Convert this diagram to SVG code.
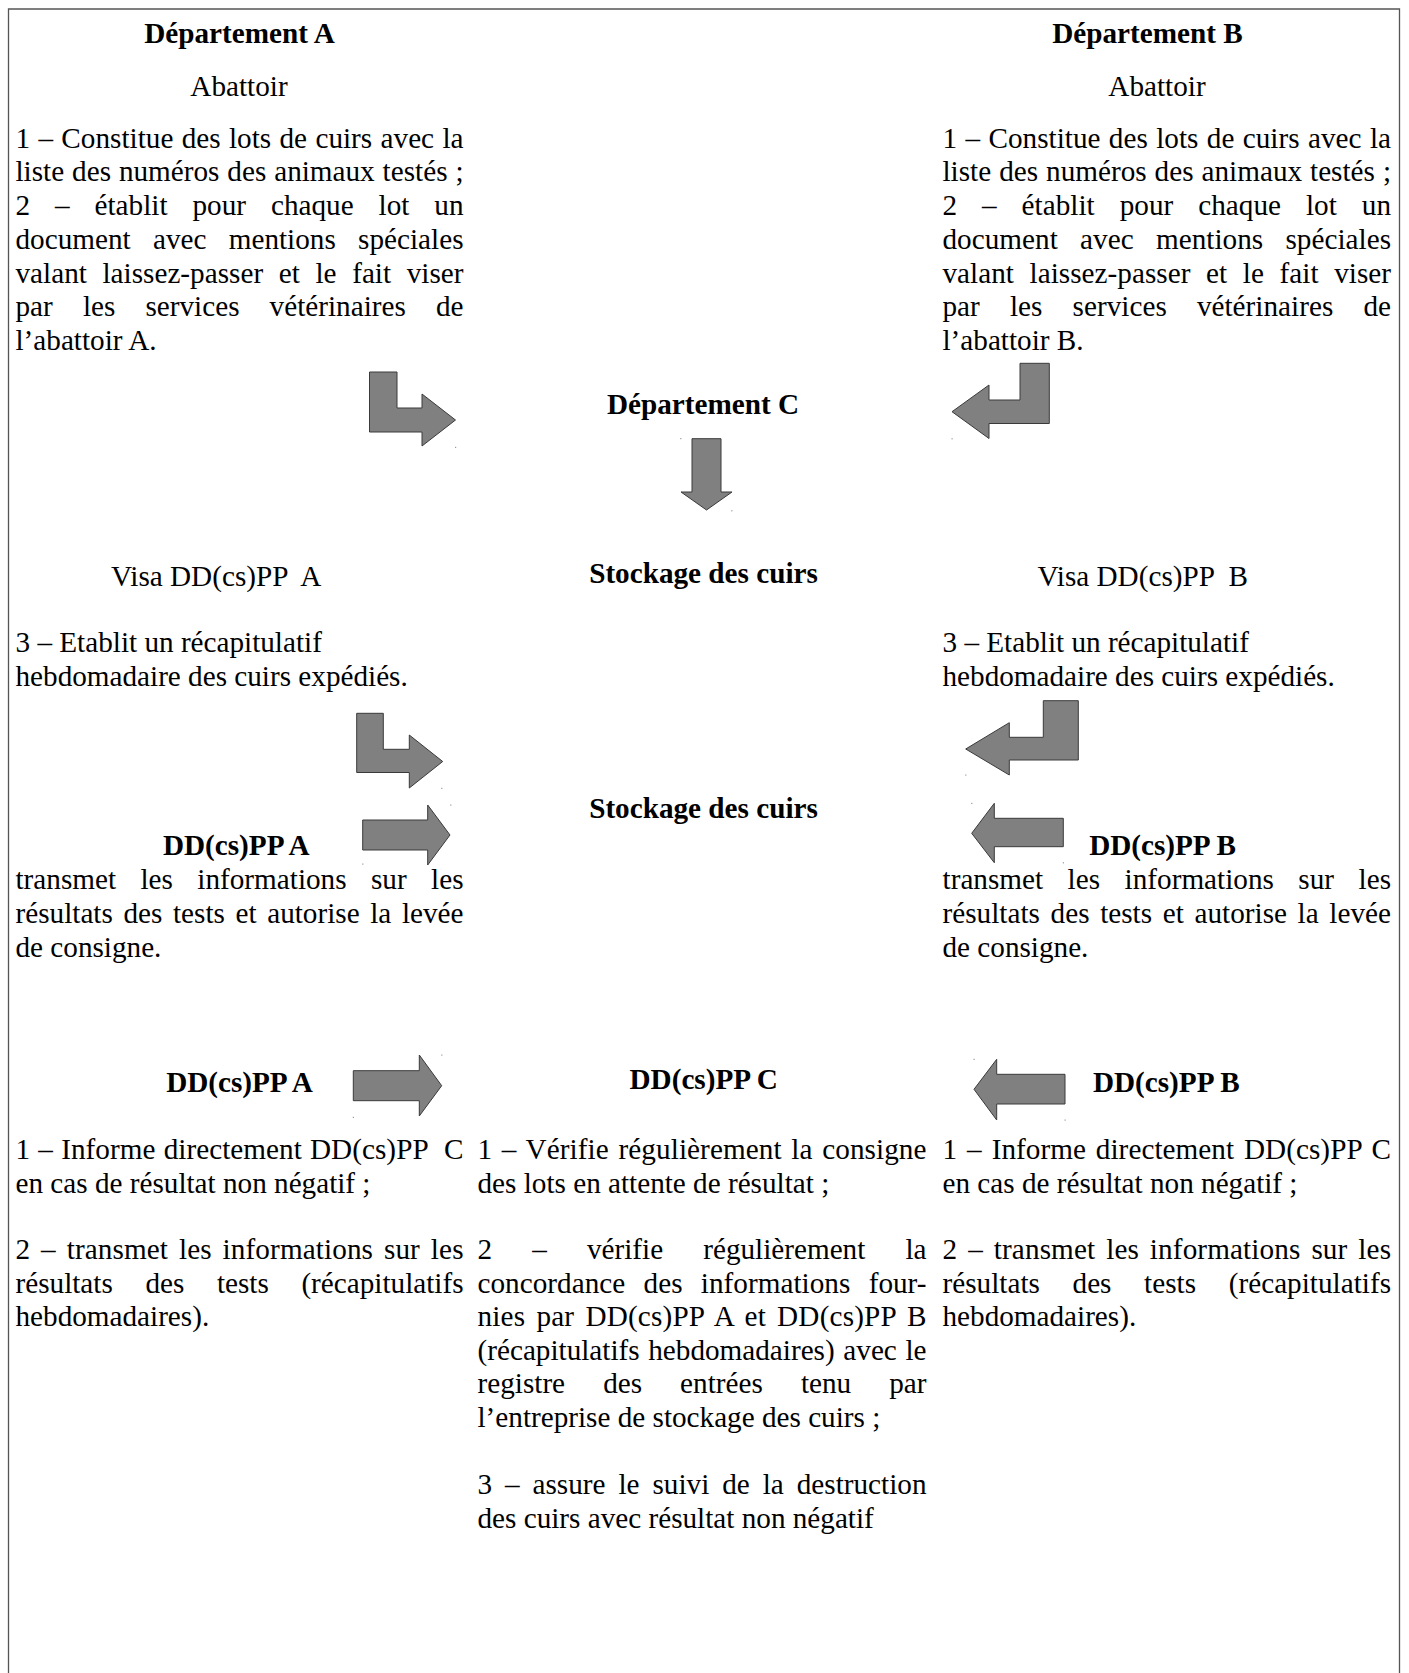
<svg xmlns="http://www.w3.org/2000/svg" width="1409" height="1673" viewBox="0 0 1409 1673">
<style>
.t{font-family:"Liberation Serif","Times New Roman",serif;font-size:29.2px;fill:#000}
.b{font-weight:bold}
.c{text-anchor:middle}
.arrow{fill:#808080;stroke:#3a3a3a;stroke-width:1}
.dot{fill:#9a9a9a}
.frame{fill:none;stroke:#555;stroke-width:1.3}
</style>
<rect width="1409" height="1673" fill="#fff"/>
<path class="frame" d="M8.5,1673 V9 H1399.5 V1673"/>

<g id="deptA">
<text class="t b c" x="239.5" y="43.3">Département A</text>
<text class="t c" x="239" y="95.7">Abattoir</text>
<text class="t" x="15.5" y="147.5" textLength="448" lengthAdjust="spacing" style="word-spacing:1px">1 – Constitue des lots de cuirs avec la</text>
<text class="t" x="15.5" y="181.25" textLength="448" lengthAdjust="spacing" style="word-spacing:0.6px">liste des numéros des animaux testés ;</text>
<text class="t" x="15.5" y="215" textLength="448" lengthAdjust="spacing" style="word-spacing:17.6px">2 – établit pour chaque lot un</text>
<text class="t" x="15.5" y="248.75" textLength="448" lengthAdjust="spacing" style="word-spacing:15px">document avec mentions spéciales</text>
<text class="t" x="15.5" y="282.5" textLength="448" lengthAdjust="spacing" style="word-spacing:8.3px">valant laissez-passer et le fait viser</text>
<text class="t" x="15.5" y="316.25" textLength="448" lengthAdjust="spacing" style="word-spacing:22.8px">par les services vétérinaires de</text>
<text class="t" x="15.5" y="350">l’abattoir A.</text>
</g>

<g id="deptB">
<text class="t b c" x="1147.5" y="43.3">Département B</text>
<text class="t c" x="1157" y="95.7">Abattoir</text>
<text class="t" x="942.5" y="147.5" textLength="448.5" lengthAdjust="spacing" style="word-spacing:1px">1 – Constitue des lots de cuirs avec la</text>
<text class="t" x="942.5" y="181.25" textLength="448.5" lengthAdjust="spacing" style="word-spacing:0.6px">liste des numéros des animaux testés ;</text>
<text class="t" x="942.5" y="215" textLength="448.5" lengthAdjust="spacing" style="word-spacing:17.6px">2 – établit pour chaque lot un</text>
<text class="t" x="942.5" y="248.75" textLength="448.5" lengthAdjust="spacing" style="word-spacing:15px">document avec mentions spéciales</text>
<text class="t" x="942.5" y="282.5" textLength="448.5" lengthAdjust="spacing" style="word-spacing:8.3px">valant laissez-passer et le fait viser</text>
<text class="t" x="942.5" y="316.25" textLength="448.5" lengthAdjust="spacing" style="word-spacing:22.8px">par les services vétérinaires de</text>
<text class="t" x="942.5" y="350">l’abattoir B.</text>
</g>

<g id="deptC">
<text class="t b c" x="703" y="414">Département C</text>
</g>

<g id="stockage1">
<text class="t b c" x="703.5" y="582.7">Stockage des cuirs</text>
</g>

<g id="visaA">
<text class="t" x="111" y="585.7" xml:space="preserve">Visa DD(cs)PP  A</text>
<text class="t" x="15.5" y="652.2">3 – Etablit un récapitulatif</text>
<text class="t" x="15.5" y="686">hebdomadaire des cuirs expédiés.</text>
</g>

<g id="visaB">
<text class="t" x="1037.5" y="585.7" xml:space="preserve">Visa DD(cs)PP  B</text>
<text class="t" x="942.5" y="652.2">3 – Etablit un récapitulatif</text>
<text class="t" x="942.5" y="686">hebdomadaire des cuirs expédiés.</text>
</g>

<g id="stockage2">
<text class="t b c" x="703.5" y="818.3">Stockage des cuirs</text>
</g>

<g id="ddppA-transmet">
<text class="t b c" x="236.3" y="855">DD(cs)PP A</text>
<text class="t" x="15.5" y="889.3" textLength="448" lengthAdjust="spacing" style="word-spacing:17.1px">transmet les informations sur les</text>
<text class="t" x="15.5" y="923" textLength="448" lengthAdjust="spacing" style="word-spacing:3.3px">résultats des tests et autorise la levée</text>
<text class="t" x="15.5" y="956.8">de consigne.</text>
</g>

<g id="ddppB-transmet">
<text class="t b c" x="1162.5" y="855">DD(cs)PP B</text>
<text class="t" x="942.5" y="889.3" textLength="448.5" lengthAdjust="spacing" style="word-spacing:17.1px">transmet les informations sur les</text>
<text class="t" x="942.5" y="923" textLength="448.5" lengthAdjust="spacing" style="word-spacing:3.3px">résultats des tests et autorise la levée</text>
<text class="t" x="942.5" y="956.8">de consigne.</text>
</g>

<g id="ddppA">
<text class="t b c" x="239.5" y="1092.3">DD(cs)PP A</text>
<text class="t" x="15.5" y="1159" textLength="448" lengthAdjust="spacing" xml:space="preserve" style="word-spacing:0.9px">1 – Informe directement DD(cs)PP  C</text>
<text class="t" x="15.5" y="1193">en cas de résultat non négatif ;</text>
<text class="t" x="15.5" y="1259" textLength="448" lengthAdjust="spacing" style="word-spacing:3.5px">2 – transmet les informations sur les</text>
<text class="t" x="15.5" y="1292.6" textLength="448" lengthAdjust="spacing" style="word-spacing:25.3px">résultats des tests (récapitulatifs</text>
<text class="t" x="15.5" y="1326.2">hebdomadaires).</text>
</g>

<g id="ddppC">
<text class="t b c" x="703.7" y="1088.5">DD(cs)PP C</text>
<text class="t" x="477.5" y="1159" textLength="449" lengthAdjust="spacing" style="word-spacing:2.25px">1 – Vérifie régulièrement la consigne</text>
<text class="t" x="477.5" y="1193">des lots en attente de résultat ;</text>
<text class="t" x="477.5" y="1259" textLength="449" lengthAdjust="spacing" style="word-spacing:32.8px">2 – vérifie régulièrement la</text>
<text class="t" x="477.5" y="1292.6" textLength="449" lengthAdjust="spacing" style="word-spacing:11px">concordance des informations four-</text>
<text class="t" x="477.5" y="1326.2" textLength="449" lengthAdjust="spacing" style="word-spacing:3.7px">nies par DD(cs)PP A et DD(cs)PP B</text>
<text class="t" x="477.5" y="1359.8" textLength="449" lengthAdjust="spacing" style="word-spacing:1.3px">(récapitulatifs hebdomadaires) avec le</text>
<text class="t" x="477.5" y="1393.4" textLength="449" lengthAdjust="spacing" style="word-spacing:30.75px">registre des entrées tenu par</text>
<text class="t" x="477.5" y="1427">l’entreprise de stockage des cuirs ;</text>
<text class="t" x="477.5" y="1494.2" textLength="449" lengthAdjust="spacing" style="word-spacing:5.6px">3 – assure le suivi de la destruction</text>
<text class="t" x="477.5" y="1527.8">des cuirs avec résultat non négatif</text>
</g>

<g id="ddppB">
<text class="t b c" x="1166.3" y="1092.3">DD(cs)PP B</text>
<text class="t" x="942.5" y="1159" textLength="448.5" lengthAdjust="spacing" style="word-spacing:2.6px">1 – Informe directement DD(cs)PP C</text>
<text class="t" x="942.5" y="1193">en cas de résultat non négatif ;</text>
<text class="t" x="942.5" y="1259" textLength="448.5" lengthAdjust="spacing" style="word-spacing:3.5px">2 – transmet les informations sur les</text>
<text class="t" x="942.5" y="1292.6" textLength="448.5" lengthAdjust="spacing" style="word-spacing:25.3px">résultats des tests (récapitulatifs</text>
<text class="t" x="942.5" y="1326.2">hebdomadaires).</text>
</g>

<g id="connectors">
<polygon class="arrow" points="369.5,372 397,372 397,408 422,408 422,394 455.5,420 422,446 422,432 369.5,432"/>
<polygon class="arrow" points="1020,363.3 1049.3,363.3 1049.3,423.5 989,423.5 989,438.5 952,411.7 989,385 989,400 1020,400"/>
<polygon class="arrow" points="692,438.7 721,438.7 721,492 732,492 706.5,510 681,492 692,492"/>
<polygon class="arrow" points="356.7,713.3 383.3,713.3 383.3,749.3 409.3,749.3 409.3,735 442.7,761.5 409.3,788 409.3,772.5 356.7,772.5"/>
<polygon class="arrow" points="1043.3,700.7 1078.3,700.7 1078.3,760 1009.3,760 1009.3,775 965.7,749 1009.3,722.7 1009.3,737.3 1043.3,737.3"/>
<polygon class="arrow" points="362.7,820 427.7,820 427.7,805 450,835 427.7,865 427.7,850 362.7,850"/>
<polygon class="arrow" points="1063.3,818.3 994.3,818.3 994.3,803.3 971.7,833.3 994.3,862.7 994.3,846.7 1063.3,846.7"/>
<polygon class="arrow" points="353.3,1070.7 419.3,1070.7 419.3,1055 441.7,1085.7 419.3,1116 419.3,1100.7 353.3,1100.7"/>
<polygon class="arrow" points="1065,1074.3 996.7,1074.3 996.7,1059.3 974,1089.3 996.7,1120 996.7,1104 1065,1104"/>
<rect class="dot" x="455" y="446.8" width="1.2" height="1.2"/>
<rect class="dot" x="680.2" y="438" width="1.2" height="1.2"/>
<rect class="dot" x="731.2" y="510.2" width="1.2" height="1.2"/>
<rect class="dot" x="951.5" y="438.2" width="1.2" height="1.2"/>
<rect class="dot" x="441.2" y="787.8" width="1.2" height="1.2"/>
<rect class="dot" x="450.2" y="804.5" width="1.2" height="1.2"/>
<rect class="dot" x="362.2" y="863.5" width="1.2" height="1.2"/>
<rect class="dot" x="965.2" y="774.5" width="1.2" height="1.2"/>
<rect class="dot" x="971.2" y="802.8" width="1.2" height="1.2"/>
<rect class="dot" x="1062.8" y="862.2" width="1.2" height="1.2"/>
<rect class="dot" x="441.2" y="1054.5" width="1.2" height="1.2"/>
<rect class="dot" x="352.8" y="1116.8" width="1.2" height="1.2"/>
<rect class="dot" x="973.5" y="1058.8" width="1.2" height="1.2"/>
<rect class="dot" x="1064.5" y="1119.5" width="1.2" height="1.2"/>
</g>
</svg>
